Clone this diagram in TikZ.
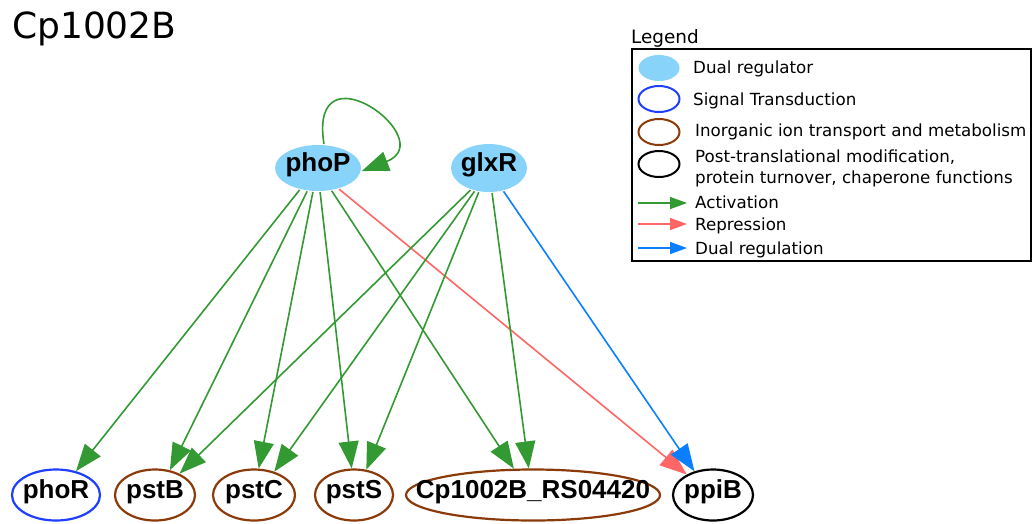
\documentclass[tikz,border=0pt]{standalone}
\usepackage{fontspec}
\setmainfont{DejaVu Sans}
\newfontfamily\nodefont{Liberation Sans}
\usetikzlibrary{shapes.geometric,arrows.meta}
\definecolor{regfill}{HTML}{87D3FA}
\definecolor{sigblue}{HTML}{1F3FFF}
\definecolor{brownc}{HTML}{8B3A0A}
\definecolor{actgreen}{HTML}{339933}
\definecolor{repred}{HTML}{FF6666}
\definecolor{dualblue}{HTML}{0A7FFF}
\begin{document}
\begin{tikzpicture}[x=1pt,y=-1pt,
  gene/.style={ellipse, inner sep=0pt, line width=2.2pt, text height=0.716em, text depth=0pt,
    font=\nodefont\bfseries\fontsize{26}{26}\selectfont},
  reg/.style={gene, fill=regfill, draw=none},
  sig/.style={gene, draw=sigblue},
  ion/.style={gene, draw=brownc},
  ptm/.style={gene, draw=black},
  link/.style={line width=1.6pt, -{Triangle[length=27pt,width=20pt]}},
  act/.style={link, color=actgreen},
  rep/.style={link, color=repred},
  dual/.style={link, color=dualblue},
  legarrow/.style={line width=1.6pt, -{Triangle[length=17pt,width=12pt]}},
  legsym/.style={ellipse, inner sep=0pt, minimum width=41pt, minimum height=26pt, line width=2pt},
  legtext/.style={anchor=base west, inner sep=0pt, font=\fontsize{16.7}{20}\selectfont},
]
\useasboundingbox (0,0) rectangle (1032,523);

% title
\node[anchor=base west, inner sep=0pt, font=\fontsize{36}{36}\selectfont] (title) at (12,38) {Cp1002B};

% regulators
\node[reg, minimum width=86pt, minimum height=46pt] (phoP) at (318,168) {\makebox[0pt]{phoP}};
\node[reg, minimum width=76pt, minimum height=48pt] (glxR) at (489,168) {\makebox[0pt]{glxR}};

% targets
\node[sig, minimum width=88pt, minimum height=51pt] (phoR) at (56,495) {\makebox[0pt]{phoR}};
\node[ion, minimum width=80pt, minimum height=51pt] (pstB) at (155,495) {\makebox[0pt]{pstB}};
\node[ion, minimum width=82pt, minimum height=51pt] (pstC) at (254,495) {\makebox[0pt]{pstC}};
\node[ion, minimum width=78pt, minimum height=51pt] (pstS) at (354,495) {\makebox[0pt]{pstS}};
\node[ion, minimum width=254pt, minimum height=51pt] (RS) at (533,495) {\makebox[0pt]{Cp1002B\_RS04420}};
\node[ptm, minimum width=80pt, minimum height=51pt] (ppiB) at (713,495) {\makebox[0pt]{ppiB}};

% self loop
\draw[act] (phoP.76) .. controls (308,42) and (442,140) .. (phoP.-4);

% phoP edges
\draw[act] (phoP.-130) -- (phoR.50);
\draw[act] (phoP.-115) -- (pstB.59);
\draw[act] (phoP.-102) -- (pstC.80);
\draw[act] (phoP.-85) -- (pstS.95);
\draw[act] (phoP.-59) -- (RS.126);
\draw[rep] (phoP.-45) -- (ppiB.142);

% glxR edges
\draw[act] (glxR.-130) -- (pstB.41);
\draw[act] (glxR.-122) -- (pstC.49);
\draw[act] (glxR.-113) -- (pstS.64);
\draw[act] (glxR.-83) -- (RS.99);
\draw[dual] (glxR.-58) -- (ppiB.128);

% legend
\node[legtext, font=\fontsize{18.4}{20}\selectfont] (legtitle) at (631,43) {Legend};
\draw[line width=1.3pt] (632,49) rectangle (1031,261);
\node[legsym, fill=regfill] (ls1) at (659,68) {};
\node[legsym, draw=sigblue] (ls2) at (659,99) {};
\node[legsym, draw=brownc] (ls3) at (659,132) {};
\node[legsym, draw=black] (ls4) at (659,164) {};
\node[legtext] (lt1) at (693,73) {Dual regulator};
\node[legtext] (lt2) at (693,105.5) {Signal Transduction};
\node[legtext] (lt3) at (695,136.5) {Inorganic ion transport and metabolism};
\node[legtext] (lt4a) at (695,162.5) {Post-translational modification,};
\node[legtext] (lt4b) at (695,183) {protein turnover, chaperone functions};
\coordinate (la1s) at (638,203); \coordinate (la1e) at (687,203);
\coordinate (la2s) at (638,224); \coordinate (la2e) at (687,224);
\coordinate (la3s) at (638,248); \coordinate (la3e) at (687,248);
\draw[legarrow, color=actgreen] (la1s) -- (la1e);
\draw[legarrow, color=repred] (la2s) -- (la2e);
\draw[legarrow, color=dualblue] (la3s) -- (la3e);
\node[legtext] (lt5) at (695,208) {Activation};
\node[legtext] (lt6) at (695,230) {Repression};
\node[legtext] (lt7) at (695,254) {Dual regulation};
\end{tikzpicture}
\end{document}
